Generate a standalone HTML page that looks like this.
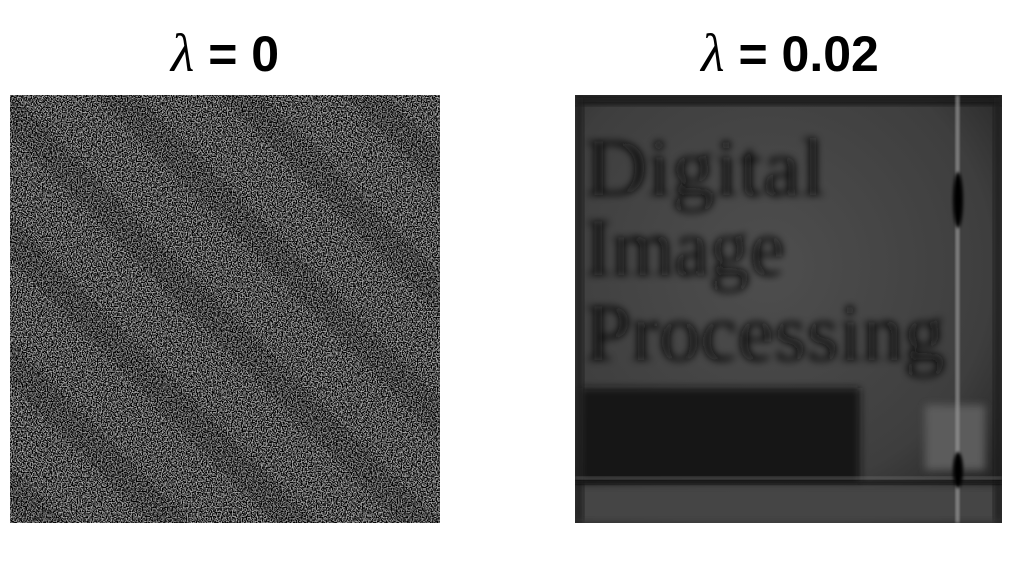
<!DOCTYPE html>
<html><head><meta charset="utf-8"><style>
html,body{margin:0;padding:0;background:#fff;width:1017px;height:562px;overflow:hidden}
.t{position:absolute;top:22px;font-family:"Liberation Sans",sans-serif;font-weight:bold;font-size:50px;color:#000;text-align:center;width:420px}
.t i{font-family:"Liberation Serif",serif;font-weight:normal;font-style:italic;font-size:54px}
</style></head><body>
<div class="t" style="left:15px"><i>λ</i> = 0</div>
<div class="t" style="left:580px"><i>λ</i> = 0.02</div>

<svg width="1017" height="562" style="position:absolute;left:0;top:0">
<defs>
<filter id="noise" x="0" y="0" width="100%" height="100%">
<feTurbulence type="fractalNoise" baseFrequency="0.8" numOctaves="1" seed="3" result="n"/>
<feColorMatrix in="n" type="matrix" values="1.6 0 0 0 -0.7  1.6 0 0 0 -0.7  1.6 0 0 0 -0.7  0 0 0 0 1"/>
</filter>
<pattern id="stripes" width="88" height="88" patternUnits="userSpaceOnUse" patternTransform="rotate(-45)">
<rect width="30" height="88" fill="rgba(0,0,0,0.12)"/>
</pattern>
<filter id="blur" x="-20%" y="-20%" width="140%" height="140%"><feGaussianBlur stdDeviation="4"/></filter>
<filter id="blur2" x="-50%" y="-50%" width="200%" height="200%"><feGaussianBlur stdDeviation="1.5"/></filter>
<radialGradient id="rg" cx="0.45" cy="0.4" r="0.75">
<stop offset="0" stop-color="#4e4e4e"/><stop offset="0.7" stop-color="#3e3e3e"/><stop offset="1" stop-color="#222"/>
</radialGradient>
<clipPath id="cr"><rect x="575" y="95" width="427" height="428"/></clipPath>
</defs>

<g>
<rect x="10" y="95" width="430" height="428" fill="#444"/>
<rect x="10" y="95" width="430" height="428" filter="url(#noise)"/>
<rect x="10" y="95" width="430" height="428" fill="url(#stripes)"/>
</g>

<g clip-path="url(#cr)">
<rect x="575" y="95" width="427" height="428" fill="url(#rg)"/>
<g filter="url(#blur)" fill="#111" font-family="Liberation Serif,serif">
<text x="585" y="195" font-size="82" textLength="240" lengthAdjust="spacingAndGlyphs">Digital</text>
<text x="585" y="275" font-size="82" textLength="200" lengthAdjust="spacingAndGlyphs">Image</text>
<text x="585" y="360" font-size="82" textLength="360" lengthAdjust="spacingAndGlyphs">Processing</text>
</g>
<rect x="580" y="388" width="280" height="95" fill="#141414" filter="url(#blur)"/>
<rect x="925" y="405" width="60" height="65" fill="#5c5c5c" filter="url(#blur)"/>
<rect x="575" y="485" width="427" height="38" fill="#444" filter="url(#blur)"/>
<rect x="575" y="95" width="427" height="10" fill="#151515" filter="url(#blur)"/>
<rect x="575" y="95" width="8" height="428" fill="#1c1c1c" filter="url(#blur)"/>
<rect x="994" y="95" width="8" height="428" fill="#1c1c1c" filter="url(#blur)"/>
<rect x="956" y="95" width="3" height="428" fill="#999" filter="url(#blur2)"/>
<rect x="575" y="481" width="427" height="3" fill="#0a0a0a" filter="url(#blur2)"/>
<rect x="575" y="477" width="427" height="2" fill="#888" filter="url(#blur2)" opacity="0.6"/>
<ellipse cx="958" cy="200" rx="5" ry="28" fill="#000" filter="url(#blur2)"/>
<ellipse cx="958" cy="470" rx="5" ry="18" fill="#000" filter="url(#blur2)"/>
</g>
</svg>
</body></html>
